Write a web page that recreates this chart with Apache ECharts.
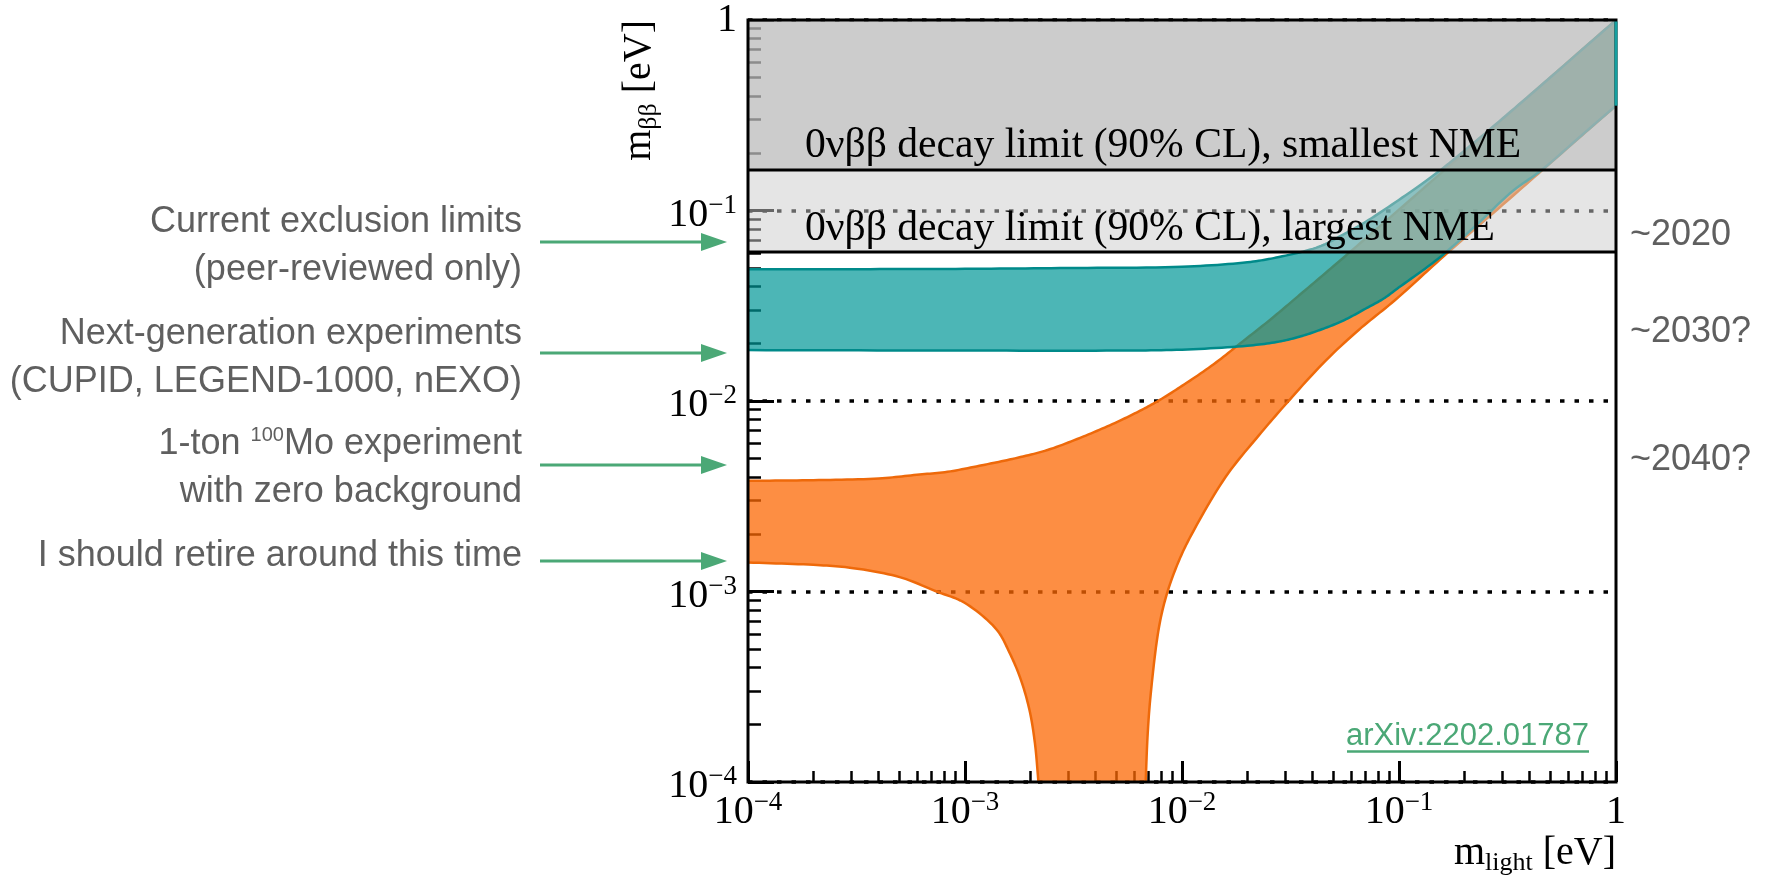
<!DOCTYPE html>
<html>
<head>
<meta charset="utf-8">
<title>m_bb vs m_light</title>
<script src="https://cdn.jsdelivr.net/npm/echarts@6.0.0/dist/echarts.min.js"></script>
<style>
html,body{margin:0;padding:0;background:#ffffff;}
#chart{width:1769px;height:881px;}
</style>
</head>
<body>
<div id="chart"></div>
<script>
// ---------------- data ----------------
const axisRange = [1e-4, 1];
const decadeTicks = [1e-4, 1e-3, 1e-2, 1e-1, 1];
const decadeExponents = ['\u22124', '\u22123', '\u22122', '\u22121', ''];
const minorTicks = [2e-4, 3e-4, 4e-4, 5e-4, 6e-4, 7e-4, 8e-4, 9e-4,
  2e-3, 3e-3, 4e-3, 5e-3, 6e-3, 7e-3, 8e-3, 9e-3,
  0.02, 0.03, 0.04, 0.05, 0.06, 0.07, 0.08, 0.09,
  0.2, 0.3, 0.4, 0.5, 0.6, 0.7, 0.8, 0.9];

// inverted ordering band (teal)
const ioUpperM = [1e-4, 3e-4, 1e-3, 3e-3, 0.01, 0.02, 0.028, 0.0427, 0.055, 0.07, 0.107, 0.152, 0.2, 0.3, 0.5, 0.7, 1];
const ioUpperV = [0.0491, 0.0492, 0.0494, 0.0499, 0.0507, 0.0535, 0.0570, 0.0645, 0.0745, 0.087, 0.120, 0.160, 0.206, 0.304, 0.502, 0.702, 1.0];
const ioLowerM = [1e-4, 1e-3, 5e-3, 0.01, 0.02, 0.028, 0.035, 0.045, 0.056, 0.07, 0.085, 0.1, 0.152, 0.232, 0.33, 0.454, 0.7, 1];
const ioLowerV = [0.0185, 0.0184, 0.0184, 0.0186, 0.0195, 0.0205, 0.0218, 0.0240, 0.0266, 0.0305, 0.0345, 0.0395, 0.056, 0.0857, 0.125, 0.163, 0.25, 0.355];

// normal ordering band (orange)
const noUpperM = [1e-4, 2e-4, 4e-4, 6e-4, 8.3e-4, 1.2e-3, 1.7e-3, 2.4e-3, 3.5e-3, 4.9e-3, 6.3e-3, 7.75e-3, 0.01, 0.014, 0.019, 0.026, 0.035, 0.05, 0.07, 0.1, 0.15, 0.22, 0.35, 0.5, 0.7, 1];
const noUpperV = [0.00381, 0.00384, 0.00392, 0.0041, 0.00425, 0.0046, 0.0050, 0.00553, 0.0065, 0.00766, 0.0088, 0.0100, 0.0120, 0.0156, 0.0205, 0.0272, 0.0362, 0.0511, 0.0711, 0.101, 0.151, 0.221, 0.351, 0.501, 0.701, 1.0];
const noLowerLeftM = [1e-4, 2e-4, 3e-4, 5e-4, 7.4e-4, 1.0e-3, 1.4e-3, 1.6e-3, 1.8e-3, 1.98e-3, 2.1e-3, 2.18e-3];
const noLowerLeftV = [0.00142, 0.00138, 0.00133, 0.00119, 0.00100, 8.7e-4, 6.3e-4, 4.8e-4, 3.5e-4, 2.4e-4, 1.6e-4, 1.0e-4];
const noLowerRightM = [6.8e-3, 6.95e-3, 7.18e-3, 7.84e-3, 8.55e-3, 9.7e-3, 0.01114, 0.0159, 0.0226, 0.0305, 0.0457, 0.0652, 0.096, 0.163, 0.3, 0.5, 1];
const noLowerRightV = [1.0e-4, 1.8e-4, 2.92e-4, 6.53e-4, 9.86e-4, 0.00146, 0.00202, 0.0040, 0.0066, 0.0098, 0.0162, 0.0236, 0.0339, 0.0584, 0.107, 0.178, 0.355];

// current 0vbb limits (90% CL)
const limitSmallestNME = 0.163;
const limitLargestNME = 0.0606;
const limitLabels = ['0\u03bd\u03b2\u03b2 decay limit (90% CL), smallest NME', '0\u03bd\u03b2\u03b2 decay limit (90% CL), largest NME'];

// ---------------- helpers ----------------
const serif = "'Liberation Serif', 'Times New Roman', serif";
const sans = "'Liberation Sans', Arial, sans-serif";
const grayText = '#5f5f5f';
const green = '#4ba876';
const tealFill = 'rgba(0,151,151,0.70)', tealLine = 'rgba(0,138,138,1)';
const orangeFill = 'rgba(252,104,4,0.75)', orangeLine = 'rgba(238,105,10,1)';

function smoothPath(pts, steps) {
  const n = pts.length;
  if (n < 3) return pts.slice();
  const P = i => {
    if (i < 0) return [2 * pts[0][0] - pts[1][0], 2 * pts[0][1] - pts[1][1]];
    if (i >= n) return [2 * pts[n - 1][0] - pts[n - 2][0], 2 * pts[n - 1][1] - pts[n - 2][1]];
    return pts[i];
  };
  const tj = (ti, a, b) => ti + Math.max(Math.sqrt(Math.hypot(b[0] - a[0], b[1] - a[1])), 1e-4);
  const out = [];
  for (let i = 0; i < n - 1; i++) {
    const p0 = P(i - 1), p1 = P(i), p2 = P(i + 1), p3 = P(i + 2);
    const t0 = 0, t1 = tj(t0, p0, p1), t2 = tj(t1, p1, p2), t3 = tj(t2, p2, p3);
    for (let k = 0; k < steps; k++) {
      const t = t1 + (t2 - t1) * k / steps;
      const L = (a, b, ta, tb) => [
        (tb - t) / (tb - ta) * a[0] + (t - ta) / (tb - ta) * b[0],
        (tb - t) / (tb - ta) * a[1] + (t - ta) / (tb - ta) * b[1]];
      const A1 = L(p0, p1, t0, t1), A2 = L(p1, p2, t1, t2), A3 = L(p2, p3, t2, t3);
      const B1 = L(A1, A2, t0, t2), B2 = L(A2, A3, t1, t3);
      out.push(L(B1, B2, t1, t2));
    }
  }
  out.push(pts[n - 1]);
  return out;
}

function bandSeries(name, upper, lowerParts, fill, stroke, z) {
  return {
    type: 'custom', name: name, coordinateSystem: 'cartesian2d', xAxisIndex: 0, yAxisIndex: 0,
    data: [[0.01, 0.01]], clip: true, z: z, silent: true,
    renderItem: function (params, api) {
      const toPx = (ms, vs) => ms.map((m, i) => api.coord([m, vs[i]]));
      const up = smoothPath(toPx(upper.m, upper.v), 12);
      const lows = lowerParts.map(p => smoothPath(toPx(p.m, p.v), 12));
      let poly = up.slice();
      for (let k = lows.length - 1; k >= 0; k--) poly = poly.concat(lows[k].slice().reverse());
      const children = [{ type: 'polygon', shape: { points: poly }, style: { fill: fill, stroke: 'none' } }];
      [up].concat(lows).forEach(l => children.push({
        type: 'polyline', shape: { points: l }, style: { stroke: stroke, lineWidth: 2.5, fill: 'none' }
      }));
      return { type: 'group', children: children };
    }
  };
}

function labelFor(v, oneStyle) {
  const i = decadeTicks.findIndex(t => Math.abs(Math.log10(t) - Math.log10(v)) < 1e-6);
  if (i < 0) return '';
  return decadeExponents[i] ? '{b|10}{s|' + decadeExponents[i] + '}' : '{' + oneStyle + '|1}';
}

const tickRich = {
  b: { fontFamily: serif, fontSize: 40, lineHeight: 49, height: 40, verticalAlign: 'bottom', color: '#000' },
  s: { fontFamily: serif, fontSize: 27, lineHeight: 49, height: 39, verticalAlign: 'top', color: '#000' },
  oneX: { fontFamily: serif, fontSize: 40, lineHeight: 49, height: 40, verticalAlign: 'bottom', color: '#000' },
  oneY: { fontFamily: serif, fontSize: 40, lineHeight: 40, height: 40, verticalAlign: 'middle', color: '#000' }
};

const titleRich = {
  m: { fontFamily: serif, fontSize: 40, lineHeight: 59, height: 40, verticalAlign: 'top', color: '#000' },
  sub: { fontFamily: serif, fontSize: 26, lineHeight: 59, height: 59, verticalAlign: 'top', color: '#000' }
};

function arrow(y) {
  return {
    type: 'group', children: [
      { type: 'line', shape: { x1: 540, y1: y, x2: 704, y2: y }, style: { stroke: green, lineWidth: 3 } },
      { type: 'polygon', shape: { points: [[701, y - 9], [727, y], [701, y + 9]] }, style: { fill: green } }
    ]
  };
}

const annStyle = { fill: grayText, fontFamily: sans, fontSize: 36, lineHeight: 48, align: 'right', verticalAlign: 'middle' };

// ---------------- chart ----------------
const chart = echarts.init(document.getElementById('chart'), null, { renderer: 'canvas' });

const option = {
  backgroundColor: '#ffffff',
  animation: false,
  grid: { left: 748, top: 20, width: 868, height: 762, show: false },
  xAxis: [{
    type: 'log', logBase: 10, min: axisRange[0], max: axisRange[1], gridIndex: 0, position: 'bottom',
    axisLine: { show: false },
    axisTick: { show: true, inside: true, length: 21, lineStyle: { color: '#000', width: 3 } },
    axisLabel: { show: true, margin: 1, formatter: v => labelFor(v, 'oneX'), rich: tickRich },
    splitLine: { show: false }, minorTick: { show: false }, minorSplitLine: { show: false }
  }, {
    type: 'log', logBase: 10, min: axisRange[0], max: axisRange[1], gridIndex: 0, position: 'bottom',
    axisLine: { show: false }, axisLabel: { show: false }, splitLine: { show: false },
    axisTick: { show: true, inside: true, length: 11, lineStyle: { color: '#000', width: 2.5 }, customValues: minorTicks }
  }],
  yAxis: [{
    type: 'log', logBase: 10, min: axisRange[0], max: axisRange[1], gridIndex: 0, position: 'left',
    axisLine: { show: false },
    axisTick: { show: true, inside: true, length: 26, lineStyle: { color: '#000', width: 3 } },
    axisLabel: { show: true, margin: 11, formatter: v => labelFor(v, 'oneY'), rich: tickRich },
    splitLine: { show: true, lineStyle: { color: '#000', width: 3.5, type: [4.5, 10] } },
    minorTick: { show: false }, minorSplitLine: { show: false }
  }, {
    type: 'log', logBase: 10, min: axisRange[0], max: axisRange[1], gridIndex: 0, position: 'left',
    axisLine: { show: false }, axisLabel: { show: false }, splitLine: { show: false },
    axisTick: { show: true, inside: true, length: 13, lineStyle: { color: '#000', width: 2.5 }, customValues: minorTicks }
  }],
  series: [
    bandSeries('Normal ordering', { m: noUpperM, v: noUpperV },
      [{ m: noLowerLeftM, v: noLowerLeftV }, { m: noLowerRightM, v: noLowerRightV }],
      orangeFill, orangeLine, 2),
    bandSeries('Inverted ordering', { m: ioUpperM, v: ioUpperV },
      [{ m: ioLowerM, v: ioLowerV }],
      tealFill, tealLine, 3),
    {
      type: 'custom', name: 'limits', coordinateSystem: 'cartesian2d', data: [[0.01, 0.01]],
      clip: false, z: 10, silent: true,
      renderItem: function (params, api) {
        const tl = api.coord([axisRange[0], axisRange[1]]);
        const br = api.coord([axisRange[1], axisRange[0]]);
        const yS = api.coord([axisRange[0], limitSmallestNME])[1];
        const yL = api.coord([axisRange[0], limitLargestNME])[1];
        const w = br[0] - tl[0];
        // closing edge of the teal band along the right frame
        const ioTop = api.coord([ioUpperM[ioUpperM.length - 1], ioUpperV[ioUpperV.length - 1]]);
        const ioBot = api.coord([ioLowerM[ioLowerM.length - 1], ioLowerV[ioLowerV.length - 1]]);
        const txt = (s, y) => ({
          type: 'text', x: tl[0] + 57, y: y,
          style: { text: s, fill: '#000', fontFamily: serif, fontSize: 41.6, align: 'left', verticalAlign: 'middle' }
        });
        return {
          type: 'group', children: [
            { type: 'rect', shape: { x: tl[0], y: tl[1], width: w, height: yS - tl[1] }, style: { fill: 'rgba(187,187,187,0.75)' } },
            { type: 'rect', shape: { x: tl[0], y: yS, width: w, height: yL - yS }, style: { fill: 'rgba(203,203,203,0.5)' } },
            { type: 'line', shape: { x1: tl[0], y1: yS, x2: br[0], y2: yS }, style: { stroke: '#000', lineWidth: 3 } },
            { type: 'line', shape: { x1: tl[0], y1: yL, x2: br[0], y2: yL }, style: { stroke: '#000', lineWidth: 3 } },
            txt(limitLabels[0], yS - 24.5),
            txt(limitLabels[1], yL - 22.5),
            { type: 'rect', shape: { x: tl[0], y: tl[1], width: w, height: br[1] - tl[1] }, style: { fill: 'none', stroke: '#000', lineWidth: 3 } },
            { type: 'line', shape: { x1: ioTop[0], y1: ioTop[1] + 1.5, x2: ioBot[0], y2: ioBot[1] }, style: { stroke: 'rgb(20,160,160)', lineWidth: 3 } }
          ]
        };
      }
    }
  ],
  graphic: {
    elements: [
      { type: 'text', x: 619.5, y: 20, rotation: Math.PI / 2,
        style: { text: '{m|m}{sub|\u03b2\u03b2}{m| [eV]}', rich: titleRich, align: 'right', verticalAlign: 'top' } },
      { type: 'text', x: 1616, y: 833.5,
        style: { text: '{m|m}{sub|light}{m| [eV]}', rich: titleRich, align: 'right', verticalAlign: 'top' } },

      { type: 'text', x: 522, y: 246, style: Object.assign({ text: 'Current exclusion limits\n(peer-reviewed only)' }, annStyle) },
      { type: 'text', x: 522, y: 358, style: Object.assign({ text: 'Next-generation experiments\n(CUPID, LEGEND-1000, nEXO)' }, annStyle) },
      { type: 'text', x: 522, y: 468, style: {
          text: '{t|1-ton }{sup|100}{t|Mo experiment}\n{t|with zero background}',
          align: 'right', verticalAlign: 'middle',
          rich: {
            t: { fill: grayText, color: grayText, fontFamily: sans, fontSize: 36, lineHeight: 48, verticalAlign: 'middle' },
            sup: { fill: grayText, color: grayText, fontFamily: sans, fontSize: 20, lineHeight: 48, height: 30, verticalAlign: 'top' }
          } } },
      { type: 'text', x: 522, y: 556, style: Object.assign({ text: 'I should retire around this time' }, annStyle) },

      arrow(242), arrow(353), arrow(465), arrow(561),

      { type: 'text', x: 1630, y: 235, style: { text: '~2020', fill: grayText, fontFamily: sans, fontSize: 36, align: 'left', verticalAlign: 'middle' } },
      { type: 'text', x: 1630, y: 332, style: { text: '~2030?', fill: grayText, fontFamily: sans, fontSize: 36, align: 'left', verticalAlign: 'middle' } },
      { type: 'text', x: 1630, y: 460, style: { text: '~2040?', fill: grayText, fontFamily: sans, fontSize: 36, align: 'left', verticalAlign: 'middle' } },

      { type: 'text', x: 1589, y: 736.5, style: { text: 'arXiv:2202.01787', fill: green, fontFamily: sans, fontSize: 31, align: 'right', verticalAlign: 'middle' } },
      { type: 'line', shape: { x1: 1347, y1: 751.5, x2: 1589, y2: 751.5 }, style: { stroke: green, lineWidth: 2.5 } }
    ]
  }
};

chart.setOption(option);
</script>
</body>
</html>
